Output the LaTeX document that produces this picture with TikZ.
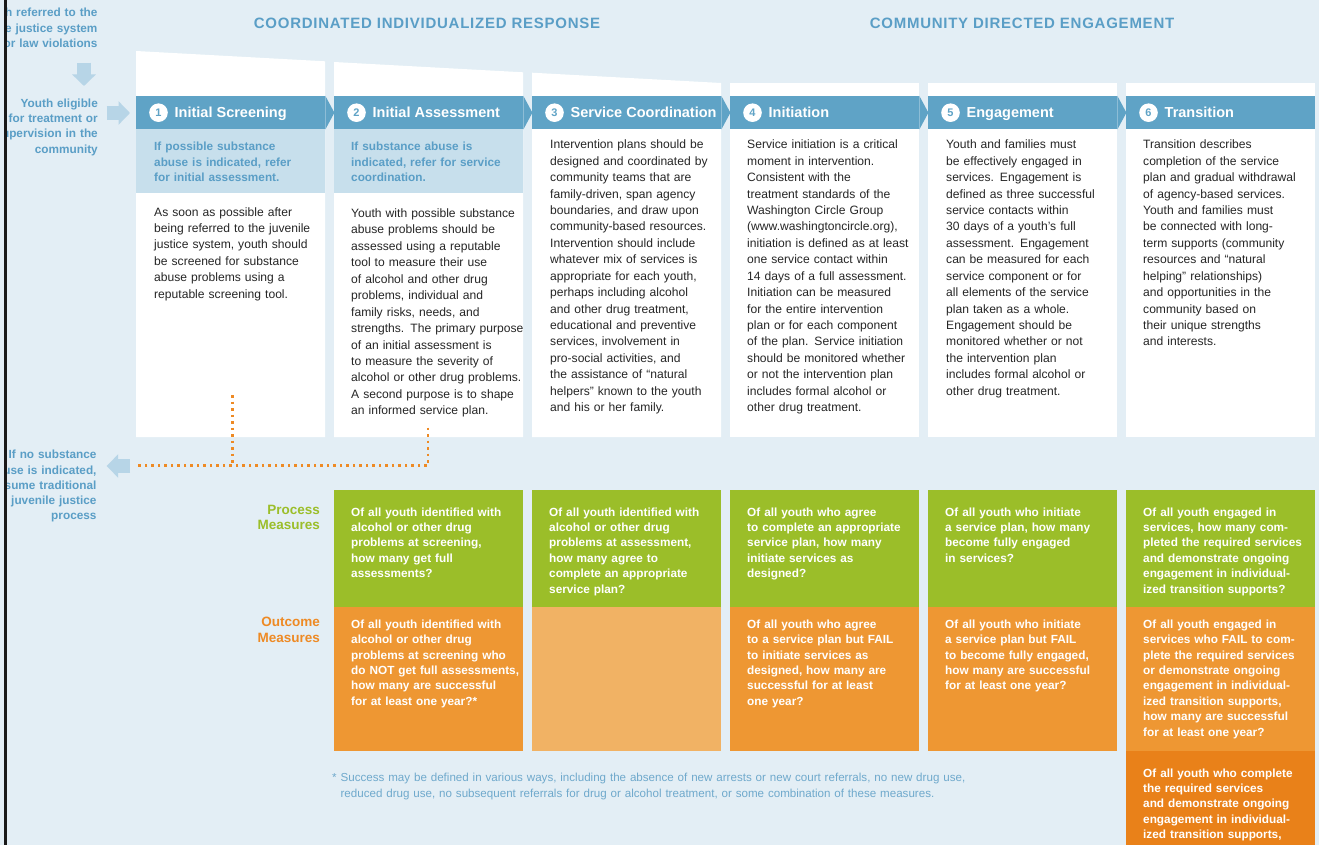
\documentclass[tikz,border=0pt]{standalone}
\usepackage{fontspec}
\setmainfont{Liberation Sans}
\usetikzlibrary{positioning, arrows.meta, calc}

\definecolor{bgblue}{HTML}{E3EEF5}
\definecolor{barblue}{HTML}{5FA3C6}
\definecolor{subblue}{HTML}{C7DFEC}
\definecolor{txtblue}{HTML}{5A9EC6}
\definecolor{arrblue}{HTML}{B7D5E7}
\definecolor{procgreen}{HTML}{9BBE29}
\definecolor{outorange}{HTML}{EE9733}
\definecolor{paleorange}{HTML}{F1B264}
\definecolor{deeporange}{HTML}{E98119}
\definecolor{lblorange}{HTML}{EE8A24}
\definecolor{bodygray}{HTML}{262626}
\definecolor{footblue}{HTML}{6FA9CC}

\begin{document}
\begin{tikzpicture}[x=1pt, y=-1pt,
	sect/.style={text=txtblue, anchor=base, inner sep=0pt, font=\bfseries\fontsize{15}{18}\selectfont\addfontfeature{LetterSpace=5}},
	bar/.style={fill=barblue, minimum width=189pt, minimum height=33pt, anchor=north west, inner sep=0pt},
	subbox/.style={fill=subblue, minimum width=189pt, minimum height=64pt, anchor=north west, inner sep=0pt},
	num/.style={circle, fill=white, text=barblue, minimum size=18.6pt, inner sep=0pt, font=\bfseries\fontsize{11}{11}\selectfont},
	steptitle/.style={text=white, inner sep=0pt, text height=12.6pt, text depth=3pt, font=\bfseries\fontsize{14.5}{16}\selectfont},
	hint/.style={text=txtblue, anchor=base west, inner sep=0pt, text width=200pt, align=left, font=\bfseries\fontsize{11.8}{15.2}\selectfont},
	body/.style={text=bodygray, anchor=base west, inner sep=0pt, text width=200pt, align=left, font=\fontsize{12.1}{16.44}\selectfont},
	gbox/.style={fill=procgreen, minimum width=189pt, minimum height=117pt, anchor=north west, inner sep=0pt},
	obox/.style={fill=outorange, minimum width=189pt, minimum height=144pt, anchor=north west, inner sep=0pt},
	ask/.style={text=white, anchor=base west, inner sep=0pt, text width=200pt, align=left, font=\bfseries\fontsize{11.8}{15.4}\selectfont},
	side/.style={text=txtblue, anchor=base east, inner sep=0pt, text width=160pt, align=right, font=\bfseries\fontsize{11.8}{15.3}\selectfont},
	mlabel/.style={anchor=base east, inner sep=0pt, text width=100pt, align=right, font=\bfseries\fontsize{13.5}{15.4}\selectfont},
	blockarrow/.style={draw=arrblue, line width=14pt, -{Triangle[width=23pt, length=11.5pt]}},
	dropline/.style={draw=lblorange, line width=2.5pt, dash pattern=on 2.5pt off 4pt}]

\useasboundingbox (0,0) rectangle (1319,845);
\fill[bgblue] (0,0) rectangle (1319,845);

% section headings
\node[sect]		(cir)	at (427,28.7)		{COORDINATED INDIVIDUALIZED RESPONSE};
\node[sect]		(cde)	at (1022,28.7)		{COMMUNITY DIRECTED ENGAGEMENT};

% white panels, slanted top over the first three
\fill[white] (136,51) -- (325,61.3) -- (325,437) -- (136,437) -- cycle;
\fill[white] (334,62) -- (523,72.3) -- (523,437) -- (334,437) -- cycle;
\fill[white] (532,72.7) -- (721,83) -- (721,437) -- (532,437) -- cycle;
\fill[white] (730,83) rectangle (919,437);
\fill[white] (928,83) rectangle (1117,437);
\fill[white] (1126,83) rectangle (1315,437);

% step bars
\node[bar]		(h1)	at (136,96)		{};
\node[bar]		(h2)	at (334,96)		{};
\node[bar]		(h3)	at (532,96)		{};
\node[bar]		(h4)	at (730,96)		{};
\node[bar]		(h5)	at (928,96)		{};
\node[bar]		(h6)	at (1126,96)	{};
\fill[barblue] (h1.north east) -- ($(h1.east)+(9,0)$) -- (h1.south east) -- cycle;
\fill[barblue] (h2.north east) -- ($(h2.east)+(9,0)$) -- (h2.south east) -- cycle;
\fill[barblue] (h3.north east) -- ($(h3.east)+(9,0)$) -- (h3.south east) -- cycle;
\fill[barblue] (h4.north east) -- ($(h4.east)+(9,0)$) -- (h4.south east) -- cycle;
\fill[barblue] (h5.north east) -- ($(h5.east)+(9,0)$) -- (h5.south east) -- cycle;

\node[num]		(n1)	at (158.5,112.7)	{1};
\node[num]		(n2)	at (356.5,112.7)	{2};
\node[num]		(n3)	at (554.5,112.7)	{3};
\node[num]		(n4)	at (752.5,112.7)	{4};
\node[num]		(n5)	at (950.5,112.7)	{5};
\node[num]		(n6)	at (1148.5,112.7)	{6};

\node[steptitle, right=6.5pt of n1]	(t1)	{Initial Screening};
\node[steptitle, right=6.5pt of n2]	(t2)	{Initial Assessment};
\node[steptitle, right=6.5pt of n3]	(t3)	{Service Coordination};
\node[steptitle, right=6.5pt of n4]	(t4)	{Initiation};
\node[steptitle, right=6.5pt of n5]	(t5)	{Engagement};
\node[steptitle, right=6.5pt of n6]	(t6)	{Transition};

% referral hints
\node[subbox]	(k1)	at (136,129)	{};
\node[subbox]	(k2)	at (334,129)	{};
\node[hint]		(s1)	at (154,151)	{If possible substance\\abuse is indicated, refer\\for initial assessment.};
\node[hint]		(s2)	at (351,151)	{If substance abuse is\\indicated, refer for service\\coordination.};

% step descriptions
\node[body]		(b1)	at (154,216)	{As soon as possible after\\being referred to the juvenile\\justice system, youth should\\be screened for substance\\abuse problems using a\\reputable screening tool.};
\node[body]		(b2)	at (351,217.5)	{Youth with possible substance\\abuse problems should be\\assessed using a reputable\\tool to measure their use\\of alcohol and other drug\\problems, individual and\\family risks, needs, and\\strengths. The primary purpose\\of an initial assessment is\\to measure the severity of\\alcohol or other drug problems.\\A second purpose is to shape\\an informed service plan.};
\node[body]		(b3)	at (550,148.7)	{Intervention plans should be\\designed and coordinated by\\community teams that are\\family-driven, span agency\\boundaries, and draw upon\\community-based resources.\\Intervention should include\\whatever mix of services is\\appropriate for each youth,\\perhaps including alcohol\\and other drug treatment,\\educational and preventive\\services, involvement in\\pro-social activities, and\\the assistance of “natural\\helpers” known to the youth\\and his or her family.};
\node[body]		(b4)	at (747,148.7)	{Service initiation is a critical\\moment in intervention.\\Consistent with the\\treatment standards of the\\Washington Circle Group\\(www.washingtoncircle.org),\\initiation is defined as at least\\one service contact within\\14 days of a full assessment.\\Initiation can be measured\\for the entire intervention\\plan or for each component\\of the plan. Service initiation\\should be monitored whether\\or not the intervention plan\\includes formal alcohol or\\other drug treatment.};
\node[body]		(b5)	at (946,148.7)	{Youth and families must\\be effectively engaged in\\services. Engagement is\\defined as three successful\\service contacts within\\30 days of a youth’s full\\assessment. Engagement\\can be measured for each\\service component or for\\all elements of the service\\plan taken as a whole.\\Engagement should be\\monitored whether or not\\the intervention plan\\includes formal alcohol or\\other drug treatment.};
\node[body]		(b6)	at (1143,148.7)	{Transition describes\\completion of the service\\plan and gradual withdrawal\\of agency-based services.\\Youth and families must\\be connected with long-\\term supports (community\\resources and “natural\\helping” relationships)\\and opportunities in the\\community based on\\their unique strengths\\and interests.};

% left side notes (cut at the page edge)
\begin{scope}
\clip (6.5,0) rectangle (135,845);
\node[side]		(refd)	at (97.7,17)	{Youth referred to the\\juvenile justice system\\for law violations};
\node[side]		(elig)	at (98,107.3)	{Youth eligible\\for treatment or\\supervision in the\\community};
\node[side]		(nosub)	at (96.7,458.7)	{If no substance\\abuse is indicated,\\resume traditional\\juvenile justice\\process};
\end{scope}

\coordinate (a1s) at (84,62.7);
\coordinate (a1e) at (84,86);
\coordinate (a2s) at (106.7,113);
\coordinate (a2e) at (130,113);
\coordinate (a3s) at (130,466);
\coordinate (a3e) at (106.7,466);
\draw[blockarrow] (a1s) -- (a1e);
\draw[blockarrow] (a2s) -- (a2e);
\draw[blockarrow] (a3s) -- (a3e);

% back to the traditional process
\coordinate (d1) at (232.3,395);
\coordinate (d2) at (428,427.5);
\coordinate (ret) at (137,465.3);
\draw[dropline] (d2) |- (ret);
\draw[dropline] (d1) -- (d1 |- ret);

% measures
\node[mlabel, text=procgreen]	(pm)	at (320,514)	{Process\\Measures};
\node[mlabel, text=lblorange]	(om)	at (320,626.7)	{Outcome\\Measures};

\node[gbox]		(g2)	at (334,490)	{};
\node[gbox]		(g3)	at (532,490)	{};
\node[gbox]		(g4)	at (730,490)	{};
\node[gbox]		(g5)	at (928,490)	{};
\node[gbox]		(g6)	at (1126,490)	{};
\node[obox]					(o2)	at (334,607)	{};
\node[obox, fill=paleorange]	(o3)	at (532,607)	{};
\node[obox]					(o4)	at (730,607)	{};
\node[obox]					(o5)	at (928,607)	{};
\node[obox]					(o6)	at (1126,607)	{};
\fill[deeporange] (1126,751) rectangle (1315,845);

\node[ask]		(q2)	at (351,516)	{Of all youth identified with\\alcohol or other drug\\problems at screening,\\how many get full\\assessments?};
\node[ask]		(q3)	at (549,516)	{Of all youth identified with\\alcohol or other drug\\problems at assessment,\\how many agree to\\complete an appropriate\\service plan?};
\node[ask]		(q4)	at (747,516)	{Of all youth who agree\\to complete an appropriate\\service plan, how many\\initiate services as\\designed?};
\node[ask]		(q5)	at (945,516)	{Of all youth who initiate\\a service plan, how many\\become fully engaged\\in services?};
\node[ask]		(q6)	at (1143,516)	{Of all youth engaged in\\services, how many com-\\pleted the required services\\and demonstrate ongoing\\engagement in individual-\\ized transition supports?};

\node[ask]		(r2)	at (351,628.3)	{Of all youth identified with\\alcohol or other drug\\problems at screening who\\do NOT get full assessments,\\how many are successful\\for at least one year?*};
\node[ask]		(r4)	at (747,628.3)	{Of all youth who agree\\to a service plan but FAIL\\to initiate services as\\designed, how many are\\successful for at least\\one year?};
\node[ask]		(r5)	at (945,628.3)	{Of all youth who initiate\\a service plan but FAIL\\to become fully engaged,\\how many are successful\\for at least one year?};
\node[ask]		(r6)	at (1143,628.3)	{Of all youth engaged in\\services who FAIL to com-\\plete the required services\\or demonstrate ongoing\\engagement in individual-\\ized transition supports,\\how many are successful\\for at least one year?};
\node[ask]		(c6)	at (1143,777)	{Of all youth who complete\\the required services\\and demonstrate ongoing\\engagement in individual-\\ized transition supports,};

% footnote
\node[anchor=base west, inner sep=0pt, text=footblue, text width=700pt, align=left, font=\fontsize{11.6}{16}\selectfont]	(foot)	at (332,781.5)	{*\ Success may be defined in various ways, including the absence of new arrests or new court referrals, no new drug use,\\\phantom{*\ }reduced drug use, no subsequent referrals for drug or alcohol treatment, or some combination of these measures.};

% page edge
\fill[black!90] (3.5,0) rectangle (6.5,845);

\end{tikzpicture}
\end{document}
